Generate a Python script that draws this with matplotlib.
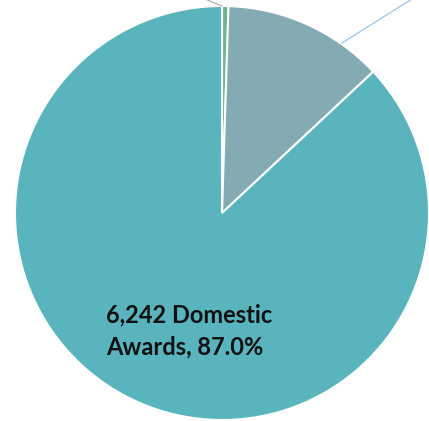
import matplotlib.pyplot as plt

labels = ['Other', 'Foreign Awards', 'Domestic Awards']
counts = [36, 900, 6242]
colors = ['#6DB58A', '#84AAB4', '#5AB4BE']

PX_R = 207.0
CX, CY = 222.0, 213.0


def px(x, y):
    # convert pixel position of the reference into pie data coords
    return (x - CX) / PX_R, (CY - y) / PX_R


fig = plt.figure(figsize=(4.29, 4.21), dpi=100)
ax = fig.add_axes([0, 0, 1, 1])
ax.pie(counts, colors=colors, startangle=90, counterclock=False,
       radius=1.0, wedgeprops={'edgecolor': 'white', 'linewidth': 1.5})

x0, y1 = px(0, 0)
x1, y0 = px(429, 421)
ax.set_xlim(x0, x1)
ax.set_ylim(y0, y1)
ax.set_aspect('equal')
ax.axis('off')

# leader lines to labels that sit outside the cropped view
a, b = px(222, 6)
c, d = px(212, 2)
e, f = px(185, -10)
ax.plot([a, c, e], [b, d, f], color='#A6A6A6', lw=0.8, clip_on=False)
a, b = px(342, 43)
c, d = px(420, -6)
ax.plot([a, c], [b, d], color='#9DC3E6', lw=0.9, clip_on=False)

total = sum(counts)
pct = counts[2] / total * 100
tx, ty = px(106, 331)
ax.text(tx, ty, f'{counts[2]:,} Domestic\nAwards, {pct:.1f}%',
        ha='left', va='center', fontsize=17, fontweight='bold',
        family='Lato', color='#111111', linespacing=1.45)

fig.savefig('out.png', dpi=100)
